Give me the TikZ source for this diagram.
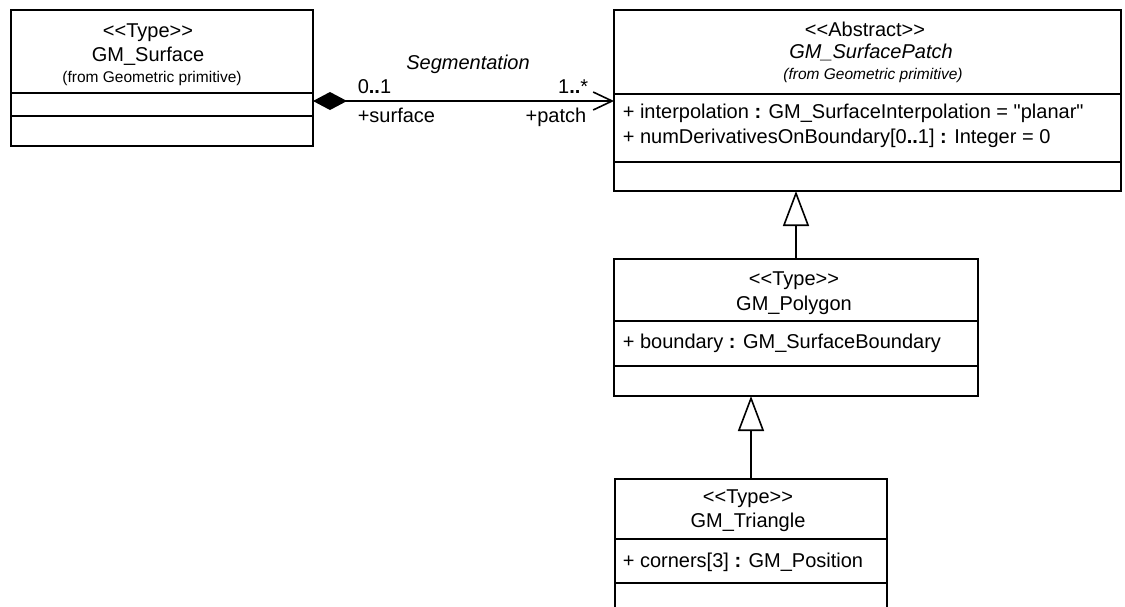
\documentclass[tikz,border=0pt]{standalone}
\usepackage{fontspec}
\setmainfont{Liberation Sans}[Ligatures=TeXOff]
\usetikzlibrary{arrows.meta}
\begin{document}
\begin{tikzpicture}[x=1pt,y=-1pt,line width=1.6pt,
  box/.style={draw,rectangle,inner sep=0pt,outer sep=0pt,anchor=north west},
  txt/.style={inner sep=0pt,anchor=base,font=\fontsize{20}{24}\selectfont},
  attr/.style={inner sep=0pt,anchor=base west,font=\fontsize{20}{24}\selectfont},
  small/.style={inner sep=0pt,anchor=base,font=\fontsize{15.5}{18}\selectfont},
  genarrow/.style={-{Triangle[open,length=35pt,width=26pt]}},
  compose/.style={{Diamond[length=34pt,width=18pt]}-{Straight Barb[length=19pt,width=18pt]}}
]
\useasboundingbox (0,0) rectangle (1125,606);
\clip (0,0) rectangle (1125,606);

% GM_Surface
\node[box,minimum width=302pt,minimum height=136pt] (surf) at (11,10) {};
\draw (11,93) -- (313,93);
\draw (11,116) -- (313,116);
\node[txt] (surfS) at (148,37) {<\kern0pt<Type>\kern0pt>};
\node[txt] (surfN) at (148,61) {GM\_Surface};
\node[small] (surfF) at (152,82) {(from Geometric primitive)};

% GM_SurfacePatch
\node[box,minimum width=507pt,minimum height=181pt] (patch) at (614,10) {};
\draw (614,94) -- (1121,94);
\draw (614,162) -- (1121,162);
\node[txt] (patchS) at (865,36) {<\kern0pt<Abstract>\kern0pt>};
\node[txt,font=\fontsize{20}{24}\selectfont\itshape] (patchN) at (871,58) {GM\_SurfacePatch};
\node[small,font=\fontsize{15.5}{18}\selectfont\itshape] (patchF) at (873,79) {(from Geometric primitive)};
\node[attr] (patchA1) at (622,118) {+ interpolation {\bfseries :} GM\_SurfaceInterpolation = "planar"};
\node[attr] (patchA2) at (622,143) {+ numDerivativesOnBoundary[0{\bfseries ..}1] {\bfseries :} Integer = 0};

% GM_Polygon
\node[box,minimum width=364pt,minimum height=137pt] (poly) at (614,259) {};
\draw (614,321) -- (978,321);
\draw (614,366) -- (978,366);
\node[txt] (polyS) at (794,285) {<\kern0pt<Type>\kern0pt>};
\node[txt] (polyN) at (794,310) {GM\_Polygon};
\node[attr] (polyA1) at (622,348) {+ boundary {\bfseries :} GM\_SurfaceBoundary};

% GM_Triangle
\node[box,minimum width=272pt,minimum height=150pt] (tri) at (615,479) {};
\draw (615,539) -- (887,539);
\draw (615,583) -- (887,583);
\node[txt] (triS) at (748,503) {<\kern0pt<Type>\kern0pt>};
\node[txt] (triN) at (748,527) {GM\_Triangle};
\node[attr] (triA1) at (622,567) {+ corners[3] {\bfseries :} GM\_Position};

% association
\path (surf.east) ++(0,23) coordinate (sa);
\path (patch.west |- sa) coordinate (pa);
\draw[compose] (sa) -- (pa);
\node[txt,font=\fontsize{20}{24}\selectfont\itshape] (segm) at (468,69) {Segmentation};
\node[attr] (m1) at (357,93) {0{\bfseries ..}1};
\node[attr] (r1) at (357,122) {+surface};
\node[txt,anchor=base east] (m2) at (589,93) {1{\bfseries ..}*};
\node[txt,anchor=base east] (r2) at (587,122) {+patch};

% generalizations
\draw[genarrow] (poly.north) -- (poly.north |- patch.south);
\draw[genarrow] (tri.north) -- (tri.north |- poly.south);
\end{tikzpicture}
\end{document}
